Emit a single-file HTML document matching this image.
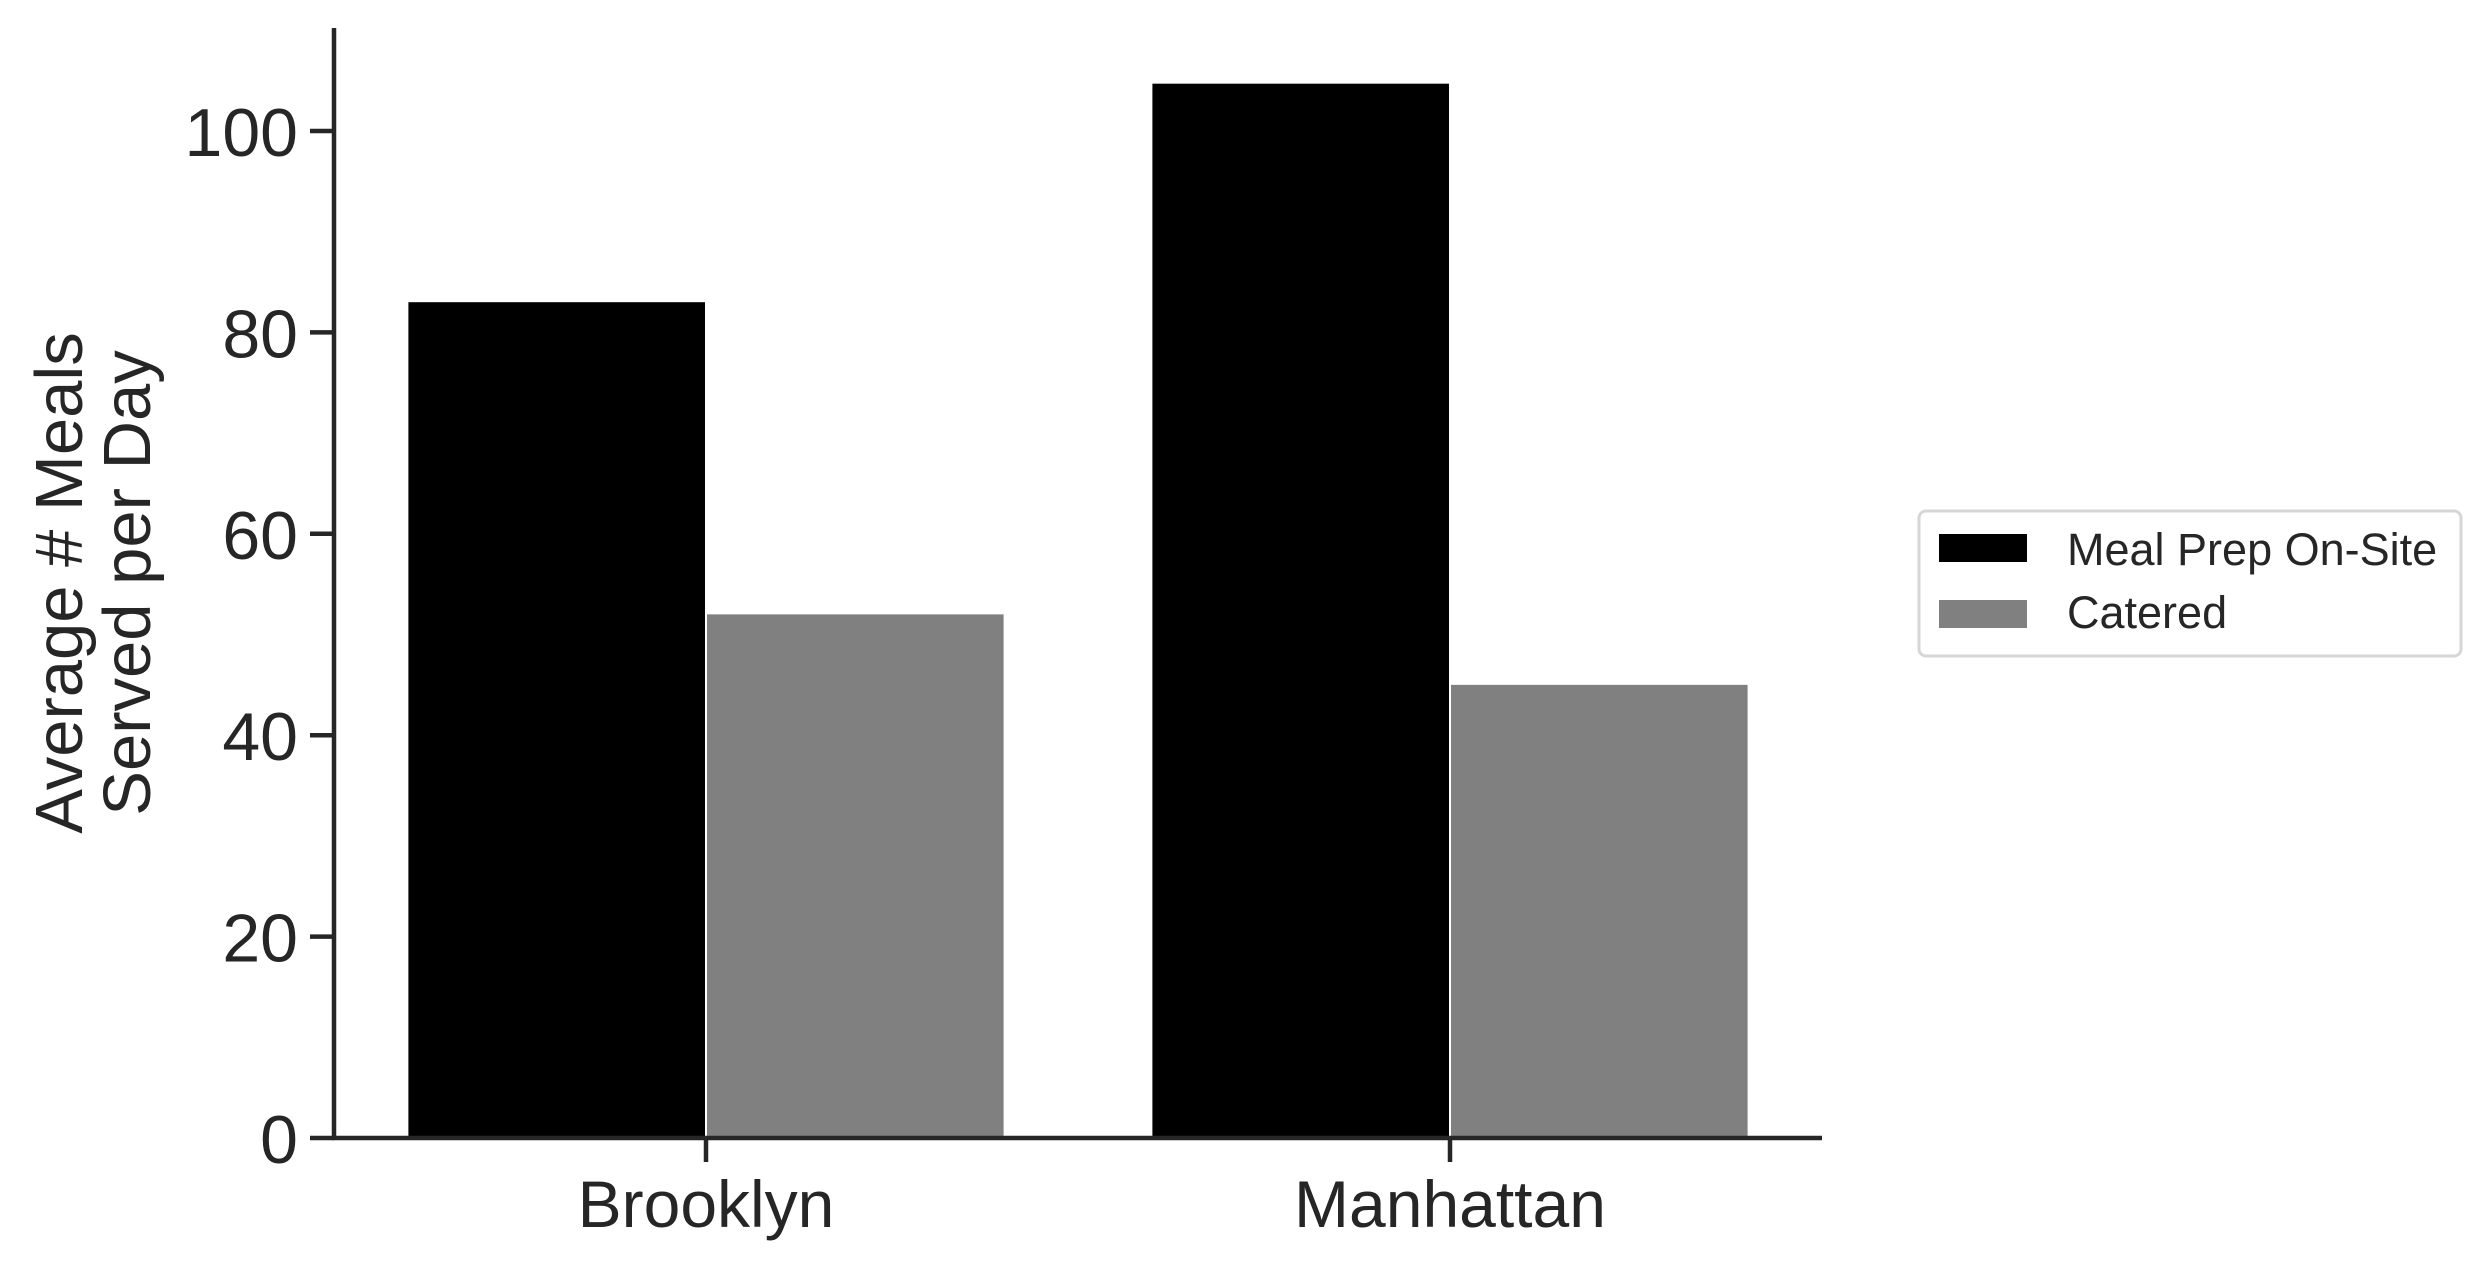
<!DOCTYPE html>
<html><head><meta charset="utf-8"><style>
body{margin:0;background:#fff}
svg{display:block;font-family:"Liberation Sans",Arial,sans-serif}
</style></head><body>
<svg id="chart" width="2490" height="1271" viewBox="0 0 2490 1271" xmlns="http://www.w3.org/2000/svg">
<rect width="2490" height="1271" fill="#fff"/>
<g id="bars"></g>
<g id="axes"></g>
<g transform="translate(0,583) rotate(-90)" fill="#262626" font-size="67" text-anchor="middle">
<text x="0" y="82">Average # Meals</text>
<text x="0" y="150">Served per Day</text>
</g>
<g>
<rect x="1919" y="511" width="542" height="145" rx="7" fill="#fff" stroke="#d6d6d6" stroke-width="3"/>
<rect x="1939" y="534" width="88" height="28" fill="#000"/>
<text x="2067" y="565" font-size="45" fill="#262626">Meal Prep On-Site</text>
<rect x="1939" y="600" width="88" height="28" fill="#808080"/>
<text x="2067" y="628" font-size="45" fill="#262626">Catered</text>
</g>
</svg>
<script>
const categories = ["Brooklyn", "Manhattan"];
const mealPrep = [83, 104.7];
const catered = [52, 45];
const yTicks = [0, 20, 40, 60, 80, 100];
const seriesNames = ["Meal Prep On-Site", "Catered"];

const NS = "http://www.w3.org/2000/svg";
const X0 = 334, X1 = 1822, Y0 = 1138, PXU = 10.07;
const xlimMin = -0.5, xlimMax = 1.5;
function xs(v){ return X0 + (v - xlimMin) / (xlimMax - xlimMin) * (X1 - X0); }
function ys(v){ return Y0 - v * PXU; }
const unit = (X1 - X0) / (xlimMax - xlimMin);
const bw = 0.4 * unit;
function mk(tag, attrs){ const e = document.createElementNS(NS, tag); for (const k in attrs) e.setAttribute(k, attrs[k]); return e; }

const bars = document.getElementById('bars');
const series = [mealPrep, catered];
const colors = ["#000000", "#808080"];
series.forEach((vals, s) => {
  vals.forEach((v, i) => {
    const cx = xs(i);
    const x = s === 0 ? cx - bw : cx + 1;
    const r = mk('rect', {x: x, y: ys(v), width: bw - 1, height: Y0 - ys(v), fill: colors[s]});
    
    
    bars.appendChild(r);
  });
});

const axes = document.getElementById('axes');
const yl = mk('line', {x1: X0, y1: 28, x2: X0, y2: Y0 + 2, stroke: '#262626', 'stroke-width': 4.5});


axes.appendChild(yl);
const xl = mk('line', {x1: X0 - 2, y1: Y0, x2: X1, y2: Y0, stroke: '#262626', 'stroke-width': 4.5});


axes.appendChild(xl);
yTicks.forEach(t => {
  const y = ys(t);
  const tk = mk('line', {x1: X0 - 24, y1: y, x2: X0, y2: y, stroke: '#262626', 'stroke-width': 4.5});
  
  
  axes.appendChild(tk);
  const tx = mk('text', {x: X0 - 36, y: y + 25, 'font-size': 68, fill: '#262626', 'text-anchor': 'end'});
  tx.textContent = String(t);
  
  
  axes.appendChild(tx);
});
categories.forEach((c, i) => {
  const x = xs(i);
  const tk = mk('line', {x1: x, y1: Y0, x2: x, y2: Y0 + 24, stroke: '#262626', 'stroke-width': 4.5});
  
  
  axes.appendChild(tk);
  const tx = mk('text', {x: x, y: 1227, 'font-size': 66, fill: '#262626', 'text-anchor': 'middle'});
  tx.textContent = c;
  
  
  axes.appendChild(tx);
});
</script>
</body></html>
